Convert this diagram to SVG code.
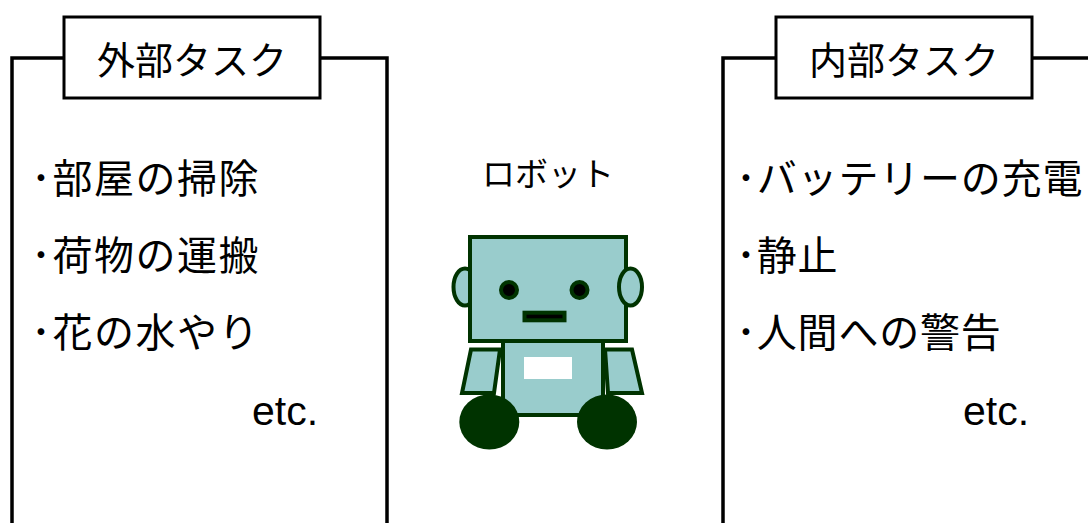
<svg xmlns="http://www.w3.org/2000/svg" width="1088" height="523" viewBox="0 0 1088 523">
  <style>
    .frame { fill: none; stroke: #000; stroke-width: 3.5; }
    .title-box { fill: #fff; stroke: #000; stroke-width: 3; }
    .jp { font-family: "Noto Sans CJK JP", "Noto Sans", sans-serif; fill: #000; }
    .title { font-size: 38px; text-anchor: middle; }
    .item { font-size: 40px; letter-spacing: 1.5px; }
    .item-r { font-size: 40px; letter-spacing: 0.8px; }
    .etc { font-family: "Liberation Sans", Arial, sans-serif; font-size: 41px; fill: #000; }
    .teal { fill: #99cccc; stroke: #003300; stroke-width: 4; }
    .dark { fill: #003300; }
  </style>

  <!-- connectors: bracket frames around each task list -->
  <g id="connectors">
    <polyline class="frame" points="12,523 12,58 64,58"/>
    <polyline class="frame" points="320,58 387,58 387,523"/>
    <polyline class="frame" points="723,523 723,58 776,58"/>
    <polyline class="frame" points="1032,58 1090,58"/>
  </g>

  <!-- external tasks -->
  <g id="external-title">
    <rect class="title-box" x="64" y="17" width="256" height="81"/>
    <text class="jp title" x="192" y="74">外部タスク</text>
  </g>
  <g id="external-list">
    <text class="jp item" x="31" y="193">･部屋の掃除</text>
    <text class="jp item" x="31" y="270">･荷物の運搬</text>
    <text class="jp item" x="31" y="347">･花の水やり</text>
    <text class="etc" x="252" y="425">etc.</text>
  </g>

  <!-- internal tasks -->
  <g id="internal-title">
    <rect class="title-box" x="776" y="17" width="256" height="81"/>
    <text class="jp title" x="904" y="74">内部タスク</text>
  </g>
  <g id="internal-list">
    <text class="jp item-r" x="736" y="193">･バッテリーの充電</text>
    <text class="jp item-r" x="736" y="270">･静止</text>
    <text class="jp item-r" x="736" y="347">･人間への警告</text>
    <text class="etc" x="963" y="425">etc.</text>
  </g>

  <!-- robot figure -->
  <g id="robot">
    <text class="jp" x="548" y="186" font-size="33" text-anchor="middle">ロボット</text>
    <ellipse class="teal" cx="465" cy="287" rx="11.5" ry="18.5"/>
    <rect class="teal" x="503" y="338" width="100" height="77" stroke-width="3"/>
    <polygon class="teal" points="471,349.5 500,349.5 494,393 462,393" stroke-width="3.5"/>
    <polygon class="teal" points="605,349.5 632,349.5 642,393 608,393" stroke-width="3.5"/>
    <rect class="teal" x="470" y="237" width="156" height="104"/>
    <ellipse class="teal" cx="630.5" cy="287" rx="11.5" ry="18.5"/>
    <circle cx="509" cy="290" r="8" fill="#000" stroke="#003300" stroke-width="4"/>
    <circle cx="579.5" cy="290" r="8" fill="#000" stroke="#003300" stroke-width="4"/>
    <rect x="524.5" y="312.7" width="40" height="7.6" fill="#000" stroke="#003300" stroke-width="4"/>
    <rect x="524" y="357" width="48" height="22" fill="#fff"/>
    <ellipse class="dark" cx="489.3" cy="422" rx="30" ry="27.5"/>
    <ellipse class="dark" cx="607" cy="422" rx="30" ry="27.5"/>
  </g>
</svg>
